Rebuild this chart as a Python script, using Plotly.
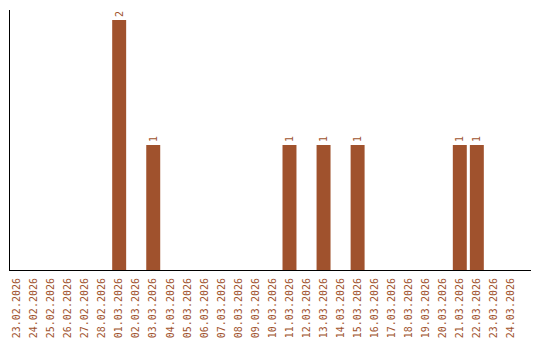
import plotly.graph_objects as go

dates = ["23.02.2026", "24.02.2026", "25.02.2026", "26.02.2026", "27.02.2026",
         "28.02.2026", "01.03.2026", "02.03.2026", "03.03.2026", "04.03.2026",
         "05.03.2026", "06.03.2026", "07.03.2026", "08.03.2026", "09.03.2026",
         "10.03.2026", "11.03.2026", "12.03.2026", "13.03.2026", "14.03.2026",
         "15.03.2026", "16.03.2026", "17.03.2026", "18.03.2026", "19.03.2026",
         "20.03.2026", "21.03.2026", "22.03.2026", "23.03.2026", "24.03.2026"]
counts = [0, 0, 0, 0, 0, 0, 2, 0, 1, 0, 0, 0, 0, 0, 0,
          0, 1, 0, 1, 0, 1, 0, 0, 0, 0, 0, 1, 1, 0, 0]

color = "#A0522D"
labels = [str(v) if v > 0 else "" for v in counts]
FONT = "DejaVu Sans Mono"

fig = go.Figure(go.Bar(
    x=dates, y=counts, marker=dict(color=color, line=dict(width=0)),
    text=labels, textposition="outside", textangle=-90,
    textfont=dict(family=FONT, size=10, color=color),
    cliponaxis=False, hoverinfo="skip",
))

fig.update_layout(
    width=540, height=340,
    margin=dict(l=10, r=9, t=10, b=70),
    paper_bgcolor="white", plot_bgcolor="white",
    bargap=0.18, showlegend=False,
    font=dict(family=FONT, size=10, color=color),
)
fig.update_xaxes(
    type="category", range=[-0.41, 30.18], tickangle=-90,
    showline=True, linecolor="black", linewidth=1,
    showgrid=False, ticks="", automargin=False, ticklabelstandoff=3,
    tickfont=dict(family=FONT, size=10, color=color),
)
fig.update_yaxes(
    range=[0, 2.08], showline=True, linecolor="black", linewidth=1,
    showgrid=False, zeroline=False, showticklabels=False, ticks="",
    automargin=False,
)

fig.write_html("out.html")
